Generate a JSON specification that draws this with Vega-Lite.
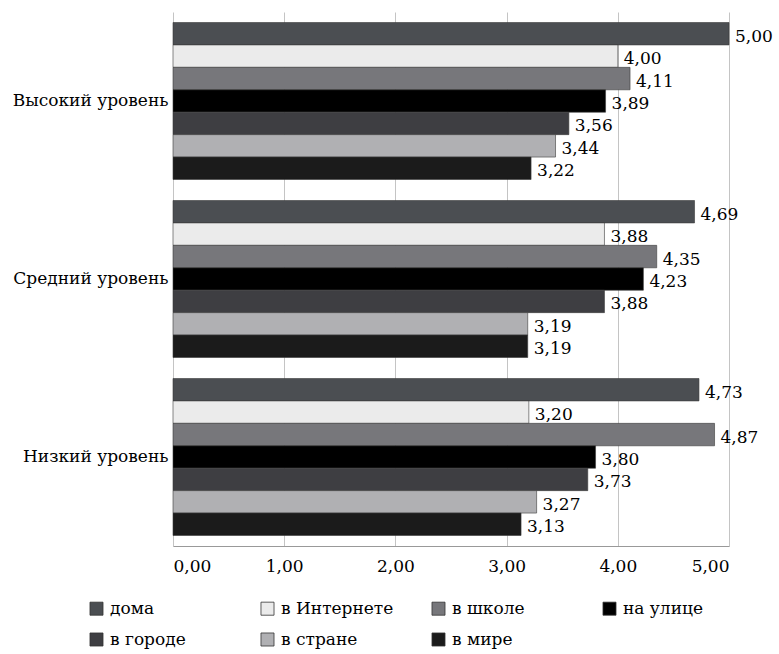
{
  "$schema": "https://vega.github.io/schema/vega-lite/v6.json",
  "width": 556,
  "height": 534,
  "autosize": "none",
  "padding": {"left": 173, "top": 12, "right": 50, "bottom": 108},
  "background": "white",
  "config": {
    "font": "DejaVu Serif",
    "view": {"stroke": null},
    "locale": {
      "number": {"decimal": ",", "thousands": " ", "grouping": [3], "currency": ["", " ₽"]}
    }
  },
  "data": {
    "values": [
      {"level": "Высокий уровень", "place": "дома", "value": 5.00},
      {"level": "Высокий уровень", "place": "в Интернете", "value": 4.00},
      {"level": "Высокий уровень", "place": "в школе", "value": 4.11},
      {"level": "Высокий уровень", "place": "на улице", "value": 3.89},
      {"level": "Высокий уровень", "place": "в городе", "value": 3.56},
      {"level": "Высокий уровень", "place": "в стране", "value": 3.44},
      {"level": "Высокий уровень", "place": "в мире", "value": 3.22},
      {"level": "Средний уровень", "place": "дома", "value": 4.69},
      {"level": "Средний уровень", "place": "в Интернете", "value": 3.88},
      {"level": "Средний уровень", "place": "в школе", "value": 4.35},
      {"level": "Средний уровень", "place": "на улице", "value": 4.23},
      {"level": "Средний уровень", "place": "в городе", "value": 3.88},
      {"level": "Средний уровень", "place": "в стране", "value": 3.19},
      {"level": "Средний уровень", "place": "в мире", "value": 3.19},
      {"level": "Низкий уровень", "place": "дома", "value": 4.73},
      {"level": "Низкий уровень", "place": "в Интернете", "value": 3.20},
      {"level": "Низкий уровень", "place": "в школе", "value": 4.87},
      {"level": "Низкий уровень", "place": "на улице", "value": 3.80},
      {"level": "Низкий уровень", "place": "в городе", "value": 3.73},
      {"level": "Низкий уровень", "place": "в стране", "value": 3.27},
      {"level": "Низкий уровень", "place": "в мире", "value": 3.13}
    ]
  },
  "encoding": {
    "y": {
      "field": "level",
      "type": "nominal",
      "sort": ["Высокий уровень", "Средний уровень", "Низкий уровень"],
      "scale": {"paddingInner": 0.118, "paddingOuter": 0.059},
      "axis": {
        "title": null,
        "ticks": false,
        "domain": false,
        "labelFontSize": 17,
        "labelColor": "#000",
        "labelPadding": 5,
        "labelLimit": 220
      }
    },
    "yOffset": {
      "field": "place",
      "type": "nominal",
      "sort": ["дома", "в Интернете", "в школе", "на улице", "в городе", "в стране", "в мире"],
      "scale": {"paddingInner": 0, "paddingOuter": 0}
    },
    "x": {
      "field": "value",
      "type": "quantitative",
      "scale": {"domain": [0, 5], "nice": false},
      "axis": {
        "title": null,
        "values": [0, 1, 2, 3, 4, 5],
        "format": ".2f",
        "grid": true,
        "gridColor": "#c4c4c4",
        "domainColor": "#999",
        "ticks": false,
        "labelFontSize": 17,
        "labelColor": "#000",
        "labelPadding": 12
      }
    }
  },
  "layer": [
    {
      "mark": {"type": "bar", "stroke": "#3a3a3a", "strokeWidth": 0.6},
      "encoding": {
        "color": {
          "field": "place",
          "type": "nominal",
          "scale": {
            "domain": ["дома", "в Интернете", "в школе", "на улице", "в городе", "в стране", "в мире"],
            "range": ["#4b4e52", "#ebebeb", "#77777b", "#000000", "#3e3e42", "#b0b0b3", "#1b1b1b"]
          },
          "legend": {
            "title": null,
            "orient": "none",
            "legendX": -85,
            "legendY": 588,
            "direction": "horizontal",
            "columns": 4,
            "gridAlign": "all",
            "columnPadding": 36,
            "rowPadding": 13,
            "symbolType": "square",
            "symbolSize": 170,
            "symbolStrokeColor": "#333",
            "symbolStrokeWidth": 0.8,
            "labelFontSize": 17,
            "labelColor": "#000",
            "labelOffset": 5,
            "labelLimit": 220
          }
        }
      }
    },
    {
      "mark": {"type": "text", "align": "left", "baseline": "middle", "dx": 6, "dy": 3, "fontSize": 17, "color": "#000"},
      "encoding": {
        "text": {"field": "value", "type": "quantitative", "format": ".2f"}
      }
    }
  ]
}
